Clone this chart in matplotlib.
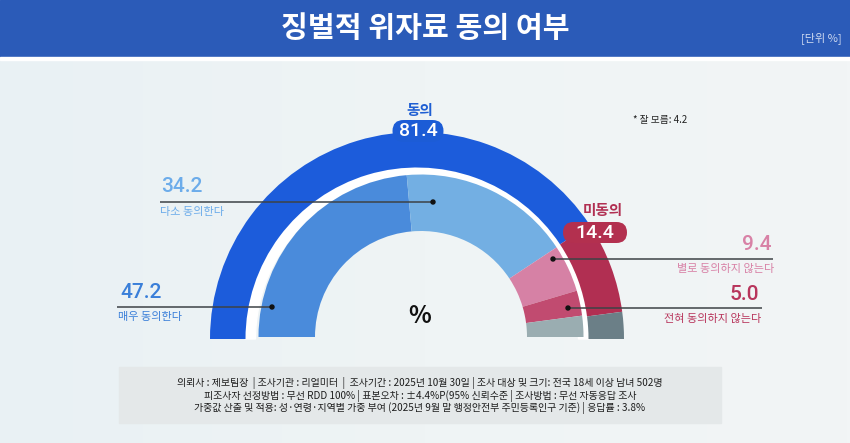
import numpy as np
import matplotlib
matplotlib.use("Agg")
import matplotlib.pyplot as plt
from matplotlib.patches import Wedge, Rectangle, FancyBboxPatch, Circle
from matplotlib.colors import LinearSegmentedColormap

plt.rcParams['font.family'] = ['Noto Sans CJK KR', 'DejaVu Sans']

# ---- data ----
title = "징벌적 위자료 동의 여부"
unit_label = "[단위 %]"
outer_labels = ["동의", "미동의", "잘 모름"]
outer_values = [81.4, 14.4, 4.2]
inner_labels = ["매우 동의한다", "다소 동의한다", "별로 동의하지 않는다", "전혀 동의하지 않는다", "잘 모름"]
inner_values = [47.2, 34.2, 9.4, 5.0, 4.2]
footer_lines = [
    "의뢰사 : 제보팀장  | 조사기관 : 리얼미터  |  조사기간 : 2025년 10월 30일 | 조사 대상 및 크기: 전국 18세 이상 남녀 502명",
    "피조사자 선정방법 : 무선 RDD 100% | 표본오차 : ±4.4%P(95% 신뢰수준 | 조사방법 : 무선 자동응답 조사",
    "가중값 산출 및 적용: 성·연령·지역별 가중 부여 (2025년 9월 말 행정안전부 주민등록인구 기준) | 응답률 : 3.8%",
]

outer_colors = ["#1c5cdb", "#b12f52", "#6b7f87"]
inner_colors = ["#4a8bdb", "#73afe3", "#d681a5", "#c14b70", "#9aadb1"]

NUM_FONT = ['Roboto', 'DejaVu Sans']

W, H = 850, 443
fig = plt.figure(figsize=(W / 100, H / 100), dpi=100)
ax = fig.add_axes([0, 0, 1, 1])
ax.set_xlim(0, W)
ax.set_ylim(0, H)
ax.axis("off")

def Y(y):
    return H - y

# background gradient
grad = np.linspace(0, 1, 256).reshape(1, -1)
bg_cmap = LinearSegmentedColormap.from_list("bg", ["#e9f1f4", "#eff4f5", "#f2f5f6"])
ax.imshow(grad, cmap=bg_cmap, extent=[0, W, 0, H], aspect="auto", zorder=0)

# title bar
ax.add_patch(Rectangle((0, Y(57)), W, 57, color="#2b5bb8", zorder=1))
ax.add_patch(Rectangle((0, Y(59.5)), W, 2.5, color="#ffffff", zorder=1))
ax.text(425, Y(28), title, color="white", fontsize=21, fontweight="bold",
        ha="center", va="center", zorder=2)
ax.text(821, Y(38), unit_label, color="#cfdaf0", fontsize=8, ha="center", va="center", zorder=2)

# rings
oc = (417, Y(339))
ic = (421, Y(337))
r_out, w_out = 207, 35.5
r_in, w_in = 162.5, 56.5

# white gap band between the rings
ax.add_patch(Wedge(oc, 172, 0, 180, width=172 - r_in + 1, color="white", zorder=3))

start = 180.0
for v, c in zip(outer_values, outer_colors):
    span = v / 100 * 180
    ax.add_patch(Wedge(oc, r_out, start - span, start, width=w_out, color=c, zorder=4, lw=0))
    start -= span

start = 180.0
for v, c in zip(inner_values, inner_colors):
    span = v / 100 * 180
    ax.add_patch(Wedge(ic, r_in, start - span, start, width=w_in, color=c, zorder=4, lw=0))
    start -= span

# center %
ax.text(420, Y(316), "%", fontsize=17, fontweight="bold", color="#111111", ha="center", va="center", zorder=5)

# outer labels with badges
def badge(cx, cy, w, h, color, txt, fs):
    ax.add_patch(FancyBboxPatch((cx - w / 2, Y(cy) - h / 2), w, h,
                                boxstyle="round,pad=0,rounding_size=%g" % (h / 2),
                                fc=color, ec="none", zorder=6))
    ax.text(cx, Y(cy), txt, color="white", fontsize=fs, ha="center", va="center",
            family=NUM_FONT, fontweight="medium", zorder=7)

ax.text(420, Y(110), outer_labels[0], color="#1f5fd3", fontsize=10.5, fontweight="bold",
        ha="center", va="center", zorder=6)
badge(418, 131, 51, 22, "#1c5cd6", f"{outer_values[0]:.1f}", 14)

ax.text(603, Y(210), outer_labels[1], color="#b12f52", fontsize=10.5, fontweight="bold",
        ha="center", va="center", zorder=6)
badge(595, 232.5, 64, 21, "#b3304f", f"{outer_values[1]:.1f}", 14)

ax.text(633, Y(120), f"* {outer_labels[2]}: {outer_values[2]:.1f}", fontsize=7, color="#222222",
        ha="left", va="center", fontweight="medium", zorder=6)

# inner leader lines and labels
def leader(x0, x1, y, dotx):
    ax.plot([x0, x1], [Y(y), Y(y)], color="#3d4246", lw=1.1, zorder=8, solid_capstyle="butt")
    ax.add_patch(Circle((dotx, Y(y)), 2.0, color="#111111", zorder=9))

def value_label(x, y, txt, color, ha):
    ax.text(x, Y(y), txt, color=color, fontsize=15, ha=ha, va="center",
            family=NUM_FONT, fontweight="medium", zorder=8)

def name_label(x, y, txt, color, ha):
    ax.text(x, Y(y), txt, color=color, fontsize=8, ha=ha, va="center", zorder=8)

# 다소 동의한다
leader(160, 433, 202, 433)
value_label(161, 186, f"{inner_values[1]:.1f}", "#6cacea", "left")
name_label(160, 212, inner_labels[1], "#6cacea", "left")

# 매우 동의한다
leader(117, 272, 307, 272)
value_label(120, 292, f"{inner_values[0]:.1f}", "#3a7fd9", "left")
name_label(118, 317, inner_labels[0], "#3a7fd9", "left")

# 별로 동의하지 않는다
leader(553, 773, 259, 553)
value_label(772, 244, f"{inner_values[2]:.1f}", "#d881a6", "right")
name_label(774, 269, inner_labels[2], "#d881a6", "right")

# 전혀 동의하지 않는다
leader(568, 762, 308, 568)
value_label(759, 294, f"{inner_values[3]:.1f}", "#b8355c", "right")
name_label(761, 319, inner_labels[3], "#b8355c", "right")

# footer box
ax.add_patch(Rectangle((119, Y(423)), 602, 56, color="#e4e8e9", zorder=1))
for i, line in enumerate(footer_lines):
    ax.text(420, Y(383 + i * 12.5), line, fontsize=7.2, color="#1e1e1e", ha="center", va="center",
            fontweight="medium", zorder=2)

fig.savefig("out.png", dpi=100)
